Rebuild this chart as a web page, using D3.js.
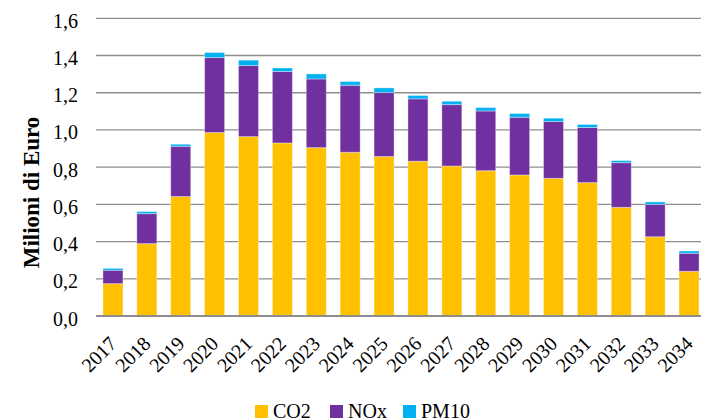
<!DOCTYPE html>
<html><head><meta charset="utf-8">
<script src="https://cdn.jsdelivr.net/npm/d3@7"></script>
<style>body{margin:0;background:#fff}svg{display:block}</style>
</head><body>
<svg id="c" width="701" height="420"></svg>
<script>
const years = ["2017","2018","2019","2020","2021","2022","2023","2024","2025","2026","2027","2028","2029","2030","2031","2032","2033","2034"];
const co2  = [0.174,0.389,0.642,0.986,0.964,0.930,0.905,0.880,0.857,0.832,0.806,0.781,0.758,0.740,0.717,0.584,0.426,0.240];
const nox  = [0.072,0.161,0.270,0.403,0.382,0.384,0.369,0.360,0.344,0.335,0.330,0.321,0.310,0.305,0.296,0.240,0.174,0.097];
const pm10 = [0.010,0.011,0.011,0.027,0.029,0.019,0.027,0.020,0.025,0.018,0.018,0.018,0.020,0.018,0.016,0.011,0.013,0.012];
const seriesNames = ["CO2","NOx","PM10"];
const colors = ["#FFC000","#7030A0","#00B0F0"];
const yTicks = [0,0.2,0.4,0.6,0.8,1.0,1.2,1.4,1.6];

const svg = d3.select("#c");
const font = "'Liberation Serif','DejaVu Serif',serif";
const x = d3.scaleBand().domain(years).range([96,706]).paddingInner(0.41).paddingOuter(0.205);
const y = d3.scaleLinear().domain([0,1.6]).range([316,18.3]);

const data = years.map((yr,i)=>({year:yr, CO2:co2[i], NOx:nox[i], PM10:pm10[i]}));
const stack = d3.stack().keys(seriesNames)(data);

// gridlines
svg.append("g").selectAll("line").data(yTicks.slice(1)).join("line")
  .attr("x1",96).attr("x2",701).attr("y1",d=>y(d)).attr("y2",d=>y(d))
  .attr("stroke","#8c8c8c").attr("stroke-width",1.3);

// bars
svg.append("g").selectAll("g").data(stack).join("g")
  .attr("fill",(d,i)=>colors[i])
  .selectAll("rect").data(d=>d).join("rect")
  .attr("x",d=>x(d.data.year)).attr("width",x.bandwidth())
  .attr("y",d=>y(d[1])).attr("height",d=>y(d[0])-y(d[1]))
  .attr("stroke","rgba(255,255,255,0.35)").attr("stroke-width",1);

// baseline
svg.append("line").attr("x1",96).attr("x2",701).attr("y1",y(0)).attr("y2",y(0))
  .attr("stroke","#8c8c8c").attr("stroke-width",2);

// y axis labels
const yAxis = d3.axisLeft(y).tickValues(yTicks).tickSize(0).tickPadding(0)
  .tickFormat(d=>d3.format(".1f")(d).replace(".",","));
const ya = svg.append("g").attr("transform","translate(78,0)").call(yAxis);
ya.select(".domain").remove();
ya.selectAll("text").attr("font-family",font).attr("font-size",20).attr("fill","#000").attr("dy","0.45em");

// x axis labels
const xAxis = d3.axisBottom(x).tickSize(0).tickPadding(0);
const xa = svg.append("g").attr("transform","translate(0,316)").call(xAxis);
xa.select(".domain").remove();
xa.selectAll("text").attr("font-family",font).attr("font-size",20).attr("fill","#000")
  .attr("text-anchor","end").attr("dy",0).attr("y",0)
  .attr("transform","translate(5,29) rotate(-45)");

// y title
svg.append("text").attr("transform","translate(39,192.5) rotate(-90)")
  .attr("text-anchor","middle").attr("font-family",font).attr("font-weight","bold")
  .attr("font-size",23).text("Milioni di Euro");

// legend
const lx = [255,330,403];
const lg = svg.append("g");
seriesNames.forEach((n,i)=>{
  lg.append("rect").attr("x",lx[i]).attr("y",405).attr("width",13).attr("height",13).attr("fill",colors[i]);
  lg.append("text").attr("x",lx[i]+18).attr("y",417.5).attr("font-family",font).attr("font-size",20).text(n);
});
</script>
</body></html>
